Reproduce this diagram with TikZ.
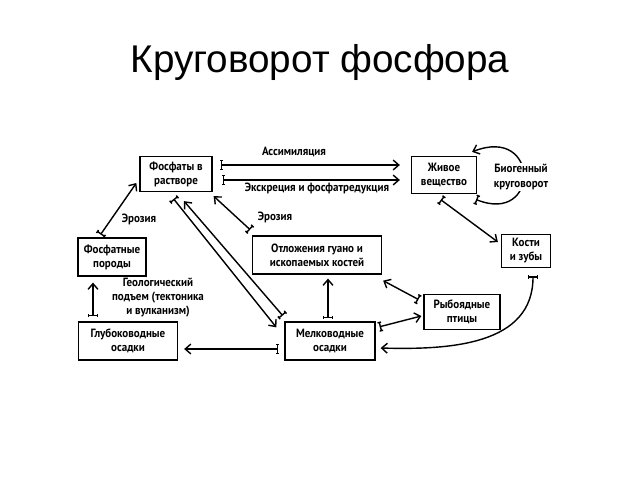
\documentclass[tikz,border=0pt]{standalone}
\usepackage{fontspec}
\setmainfont{PT Sans}
\newfontfamily\titlefont{Liberation Sans}
\newfontfamily\boxfont[FakeStretch=0.92]{PT Sans Bold}
\usetikzlibrary{arrows.meta}
\usetikzlibrary{calc}
\tikzset{blok/.style={draw, line width=0.9pt, align=center, inner sep=0pt, font=\boxfont\fontsize{8.5}{10}\selectfont}}
\tikzset{svyaz/.style={line width=1pt, {Tee Barb[width=7pt,length=2.5pt]}-{Straight Barb[length=4pt,width=7pt]}}}
\tikzset{podpis/.style={align=center, inner sep=1pt, font=\boxfont\fontsize{8.5}{10}\selectfont}}

\begin{document}
\begin{tikzpicture}[x=0.025cm, y=-0.025cm]
\useasboundingbox (0,0) rectangle (640,480);
\node[font=\titlefont\fontsize{27.5}{30}\selectfont] (titul) at (320,63) {Круговорот фосфора};
% блоки
\node[blok, minimum width=1.8cm, minimum height=0.875cm] (fos) at (176,174) {Фосфаты в\\растворе};
\node[blok, minimum width=1.625cm, minimum height=0.925cm] (ziv) at (444,175) {Живое\\вещество};
\node[blok, minimum width=1.7cm, minimum height=0.95cm] (por) at (112,257) {Фосфатные\\породы};
\node[blok, minimum width=3.225cm, minimum height=0.95cm] (gua) at (317,255) {Отложения гуано и\\ископаемых костей};
\node[blok, minimum width=1.225cm, minimum height=0.825cm] (kos) at (526,251) {Кости\\и зубы};
\node[blok, minimum width=1.9cm, minimum height=0.875cm] (pti) at (462,312) {Рыбоядные\\птицы};
\node[blok, minimum width=2.475cm, minimum height=0.95cm] (glu) at (128,341) {Глубоководные\\осадки};
\node[blok, minimum width=2.25cm, minimum height=0.95cm] (mel) at (330,341) {Мелководные\\осадки};
% подписи
\node[podpis] (asim) at (294,152) {Ассимиляция};
\node[podpis] (eksk) at (317,188) {Экскреция и фосфатредукция};
\node[podpis] (eroz1) at (139,219) {Эрозия};
\node[podpis] (eroz2) at (275,217) {Эрозия};
\node[podpis] (geol) at (158,298) {Геологический\\подъем (тектоника\\и вулканизм)};
% связи
\draw[svyaz] ($(fos.east)+(7,-9)$) -- ($(ziv.west)+(-11,-10)$);
\draw[svyaz] ($(fos.east)+(9,6)$) -- ($(ziv.west)+(-11,5)$);
\draw[svyaz] ($(ziv.south east)+(-2,5)$) .. controls (540,225) and (540,125) .. ($(ziv.north east)+(-5,-4)$);
\node[podpis, fill=white] (biog) at (521,177) {Биогенный\\круговорот};
\draw[svyaz] ($(ziv.south)+(-4,5)$) -- ($(kos.west)+(-3,-9)$);
\draw[svyaz] ($(kos.south)+(7,7)$) .. controls (533,345) and (450,350) .. ($(mel.east)+(5,7)$);
\draw[svyaz] ($(por.north)+(-12,-2)$) -- ($(fos.west)+(-3,9)$);
\draw[svyaz] ($(gua.north west)+(-1,-5)$) -- ($(fos.south east)+(1,4)$);
\draw[svyaz] ($(fos.south)+(-3,6)$) -- ($(mel.north west)+(-8,6)$);
\draw[svyaz] ($(mel.north west)+(-1,-5)$) -- ($(fos.south)+(8,9)$);
\draw[svyaz] ($(mel.north)+(-2,-2)$) -- ($(gua.south)+(11,4)$);
\draw[svyaz] ($(pti.west)+(-4,-12)$) -- ($(gua.south east)+(1,6)$);
\draw[svyaz] ($(mel.east)+(3,-14)$) -- ($(pti.west)+(-2,4)$);
\draw[svyaz] ($(mel.west)+(-5,8)$) -- ($(glu.east)+(6,8)$);
\draw[svyaz] ($(glu.north)+(-35,-4)$) -- ($(por.south)+(-19,6)$);
\end{tikzpicture}
\end{document}
